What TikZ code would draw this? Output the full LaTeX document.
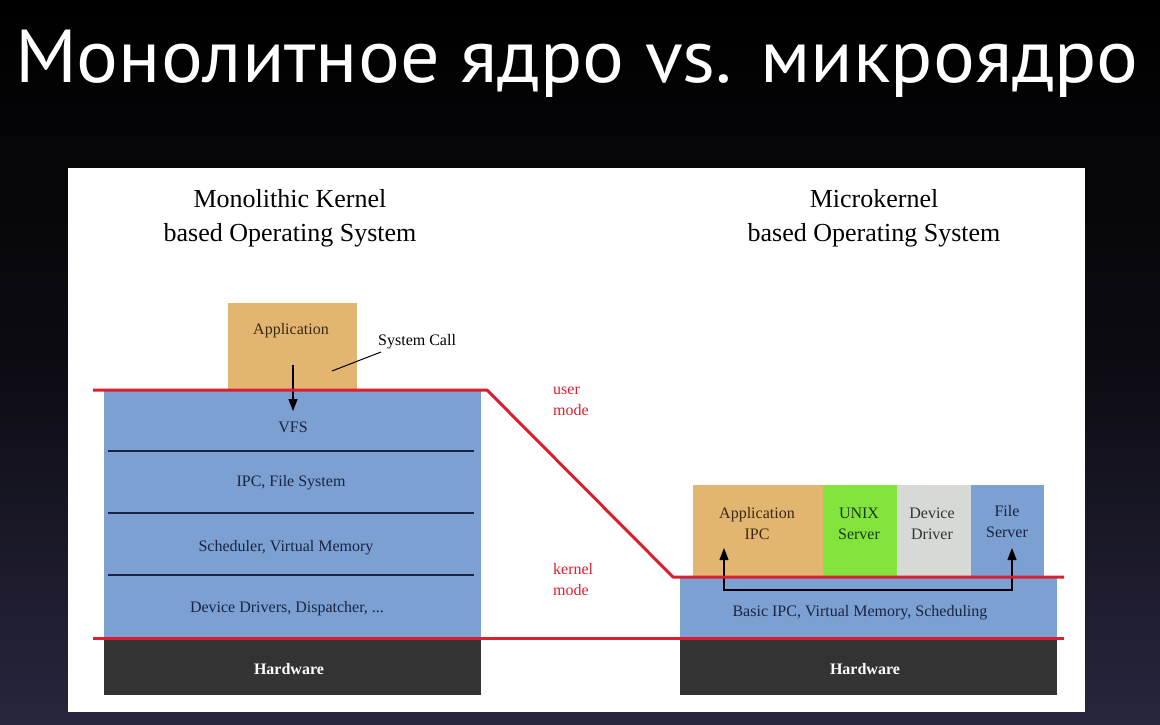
\documentclass[tikz,border=0pt]{standalone}
\usepackage{fontspec}
\setmainfont{Liberation Serif}
\newfontfamily\titlefont{PT Sans}
\usetikzlibrary{arrows.meta}
\definecolor{bgtop}{RGB}{0,0,0}
\definecolor{bgbot}{RGB}{40,38,62}
\definecolor{tan}{RGB}{226,181,112}
\definecolor{kblue}{RGB}{123,160,209}
\definecolor{kgreen}{RGB}{132,228,62}
\definecolor{kgray}{RGB}{215,217,213}
\definecolor{hw}{RGB}{51,51,51}
\definecolor{kred}{RGB}{218,32,48}
\definecolor{navy}{RGB}{26,36,66}
\definecolor{brownt}{RGB}{58,42,16}
\definecolor{dgreen}{RGB}{24,58,16}
\definecolor{dgrayt}{RGB}{50,52,50}
\tikzset{
  blk/.style={draw=none, inner sep=0pt, anchor=north west},
  lbl/.style={font=\fontsize{16}{21}\selectfont, align=center, inner sep=0pt},
  head/.style={font=\fontsize{26}{34}\selectfont, align=center, inner sep=0pt, text=black},
  modeline/.style={draw=kred, line width=3pt, line join=round},
  sep/.style={draw=navy, line width=1.4pt},
  tip/.style={-{Triangle[length=12pt,width=9pt]}, line width=1.3pt},
}
\begin{document}
\begin{tikzpicture}[x=1pt,y=-1pt]
\useasboundingbox (0,0) rectangle (1160,724);
\shade[top color=bgtop, bottom color=bgbot, middle color=bgtop!70!bgbot] (0,0) rectangle (1160,724);
% title
\node[text=white, inner sep=0pt, anchor=base] (title) at (577,82)
  {\titlefont\fontsize{75}{80}\selectfont\scalebox{1.043}[1]{Монолитное ядро vs. микроядро}};
% white panel
\node[blk, fill=white, minimum width=1017pt, minimum height=544pt] (panel) at (68,168) {};
% headings
\node[head, anchor=base] (hl1) at (290,207) {Monolithic Kernel};
\node[head, anchor=base] (hl2) at (290,241) {based Operating System};
\node[head, anchor=base] (hr1) at (874,207) {Microkernel};
\node[head, anchor=base] (hr2) at (874,241) {based Operating System};
% left side
\node[blk, fill=tan, minimum width=129pt, minimum height=88pt] (app) at (228,303) {};
\node[lbl, text=brownt] (apptxt) at (291,331) {Application};
\node[blk, fill=kblue, minimum width=377pt, minimum height=248pt] (mono) at (104,390) {};
\node[blk, fill=hw, minimum width=377pt, minimum height=57pt] (hwl) at (104,638) {};
\draw[sep] (108,451) -- (474,451);
\draw[sep] (108,513) -- (474,513);
\draw[sep] (108,575) -- (474,575);
\node[lbl, text=navy] (vfs) at (293,427) {VFS};
\node[lbl, text=navy] (ipc) at (291,483) {IPC, File System};
\node[lbl, text=navy] (sch) at (286,548) {Scheduler, Virtual Memory};
\node[lbl, text=navy] (dev) at (287,609) {Device Drivers, Dispatcher, ...};
\node[lbl, text=white, font=\fontsize{16}{21}\selectfont\bfseries] (hwltxt) at (289,669) {Hardware};
\node[lbl, text=black, anchor=west] (syscall) at (378,342) {System Call};
\coordinate (scA) at (332,371);
\coordinate (scB) at (381,352);
\draw[line width=1pt] (scA) -- (scB);
\coordinate (arA) at (293,365);
\coordinate (arB) at (293,411);
\draw[tip] (arA) -- (arB);
% right side
\node[blk, fill=tan, minimum width=130pt, minimum height=92pt] (aipc) at (693,485) {};
\node[blk, fill=kgreen, minimum width=74pt, minimum height=92pt] (unix) at (823,485) {};
\node[blk, fill=kgray, minimum width=74pt, minimum height=92pt] (ddrv) at (897,485) {};
\node[blk, fill=kblue, minimum width=73pt, minimum height=92pt] (fsrv) at (971,485) {};
\node[blk, fill=kblue, minimum width=377pt, minimum height=61pt] (micro) at (680,577) {};
\node[blk, fill=hw, minimum width=377pt, minimum height=57pt] (hwr) at (680,638) {};
\node[lbl, text=brownt] (aipctxt) at (757,524) {Application\\IPC};
\node[lbl, text=dgreen] (unixtxt) at (859,524) {UNIX\\Server};
\node[lbl, text=dgrayt] (ddrvtxt) at (932,524) {Device\\Driver};
\node[lbl, text=navy] (fsrvtxt) at (1007,522) {File\\Server};
\node[lbl, text=navy] (basic) at (860,613) {Basic IPC, Virtual Memory, Scheduling};
\node[lbl, text=white, font=\fontsize{16}{21}\selectfont\bfseries] (hwrtxt) at (865,669) {Hardware};
\coordinate (ipcL) at (724,548);
\coordinate (ipcR) at (1012,548);
\draw[{Triangle[length=12pt,width=9pt]}-{Triangle[length=12pt,width=9pt]}, line width=1.3pt, line join=miter]
  (ipcL) -- (724,590) -- (1012,590) -- (ipcR);
% mode lines
\coordinate (uL) at (93,390);
\coordinate (uK) at (487,390);
\coordinate (kK) at (673,577);
\coordinate (kR) at (1064,577);
\draw[modeline] (uL) -- (uK) -- (kK) -- (kR);
\coordinate (hL) at (93,638);
\coordinate (hR) at (1064,638);
\draw[modeline] (hL) -- (hR);
\node[lbl, text=kred, align=left, anchor=north west] (umode) at (553,387) {user\\mode};
\node[lbl, text=kred, align=left, anchor=north west] (kmode) at (553,563) {kernel\\mode};
\end{tikzpicture}
\end{document}
